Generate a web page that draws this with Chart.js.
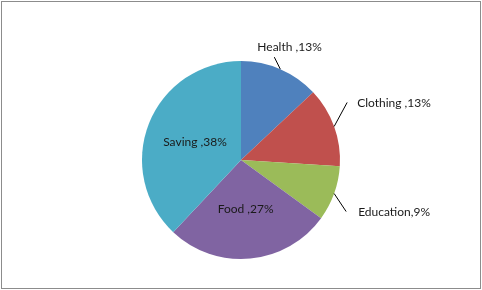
<!DOCTYPE html>
<html><head><meta charset="utf-8">
<script src="https://cdn.jsdelivr.net/npm/chart.js@4.4.1/dist/chart.umd.min.js"></script>
<style>html,body{margin:0;padding:0;background:#fff}#wrap{width:482px;height:290px;position:relative}</style>
</head><body><div id="wrap"><canvas id="c" width="482" height="290"></canvas></div>
<script>
const categories = ["Health", "Clothing", "Education", "Food", "Saving"];
const values = [13, 13, 9, 27, 38];
const labelTexts = ["Health ,13%", "Clothing ,13%", "Education,9%", "Food ,27%", "Saving ,38%"];
const colors = ["#4F81BD", "#C0504D", "#9BBB59", "#8064A2", "#4BACC6"];

// label placement: inside (ratio of radius) or outside with leader line
const placement = [
  {type:"out", lead:[-6,-12], text:[-17,-10], align:"left"},
  {type:"out", lead:[13,-24], text:[10,1], align:"left"},
  {type:"out", lead:[12,18], text:[12,1], align:"left"},
  {type:"in", ratio:0.5},
  {type:"in", ratio:0.5}
];

const labelPlugin = {
  id:"pieLabels",
  beforeDraw(chart){
    const ctx = chart.ctx;
    ctx.save();
    ctx.strokeStyle = "#8c8c8c";
    ctx.lineWidth = 1;
    ctx.strokeRect(1.5, 1.5, 479, 287);
    ctx.restore();
  },
  afterDatasetsDraw(chart){
    const ctx = chart.ctx;
    const meta = chart.getDatasetMeta(0);
    ctx.save();
    ctx.font = "12px Lato";
    ctx.fillStyle = "#1a1a1a";
    ctx.textBaseline = "middle";
    meta.data.forEach((arc, i) => {
      const p = arc.getProps(["x","y","startAngle","endAngle","outerRadius"], true);
      const mid = (p.startAngle + p.endAngle) / 2;
      const pl = placement[i];
      if (pl.type === "in") {
        const r = p.outerRadius * pl.ratio;
        ctx.textAlign = "center";
        ctx.fillText(labelTexts[i], p.x + Math.cos(mid) * r, p.y + Math.sin(mid) * r);
      } else {
        const ex = p.x + Math.cos(mid) * p.outerRadius;
        const ey = p.y + Math.sin(mid) * p.outerRadius;
        const lx = ex + pl.lead[0], ly = ey + pl.lead[1];
        ctx.strokeStyle = "#000";
        ctx.lineWidth = 1;
        ctx.beginPath();
        ctx.moveTo(ex, ey);
        ctx.lineTo(lx, ly);
        ctx.stroke();
        ctx.textAlign = pl.align;
        ctx.fillText(labelTexts[i], lx + pl.text[0], ly + pl.text[1]);
      }
    });
    ctx.restore();
  }
};

new Chart(document.getElementById("c"), {
  type: "pie",
  data: { labels: categories, datasets: [{ data: values, backgroundColor: colors, borderWidth: 0 }] },
  options: {
    responsive: false,
    animation: false,
    layout: { padding: { top: 61, bottom: 31, left: 40, right: 40 } },
    plugins: { legend: { display: false }, tooltip: { enabled: false } }
  },
  plugins: [labelPlugin]
});
</script></body></html>
